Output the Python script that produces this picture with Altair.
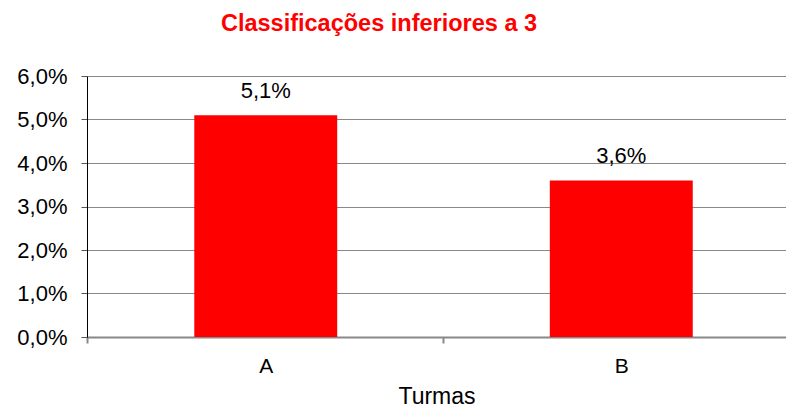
import altair as alt
import pandas as pd

categories = ["A", "B"]
values = [0.051, 0.036]
title_text = "Classificações inferiores a 3"
x_title = "Turmas"

df = pd.DataFrame({"Turma": categories, "Valor": values})

FONT = "Liberation Sans"

base = alt.Chart(df).encode(
    x=alt.X(
        "Turma:N",
        title=x_title,
        scale=alt.Scale(paddingInner=0.598, paddingOuter=0.282, align=0.535),
        axis=alt.Axis(
            labelAngle=0,
            labelFont=FONT,
            labelFontSize=21,
            labelColor="black",
            labelPadding=12,
            labelOffset=178.5,
            tickOffset=-178.5,
            tickColor="#888888",
            tickWidth=2,
            tickSize=6,
            domainColor="#888888",
            domainWidth=2,
            titleFont=FONT,
            titleFontSize=23,
            titleFontWeight="normal",
            titleColor="black",
            titlePadding=9,
            grid=False,
        ),
    ),
    y=alt.Y(
        "Valor:Q",
        title=None,
        scale=alt.Scale(domain=[0, 0.06], nice=False),
        axis=alt.Axis(
            values=[0, 0.01, 0.02, 0.03, 0.04, 0.05, 0.06],
            labelExpr="replace(format(datum.value, '.1%'), '.', ',')",
            labelFont=FONT,
            labelFontSize=22,
            labelColor="black",
            labelPadding=14,
            tickColor="#555555",
            tickSize=6,
            domainColor="black",
            domainWidth=1,
            grid=True,
            gridColor="#888888",
            gridWidth=1,
        ),
    ),
)

bars = base.mark_bar(color="#FF0000")

labels = base.transform_calculate(
    lab="replace(format(datum.Valor, '.1%'), '.', ',')"
).mark_text(
    font=FONT, fontSize=22, color="black", baseline="alphabetic", dy=-17
).encode(text="lab:N")

chart = (
    alt.layer(bars, labels)
    .properties(
        width=699,
        height=261,
        autosize=alt.AutoSizeParams(type="none"),
        padding={"left": 79, "top": 68, "right": 0, "bottom": 70},
        title=alt.TitleParams(
            text=title_text,
            font=FONT,
            fontSize=23.5,
            fontWeight="bold",
            color="#FF0000",
            anchor="middle",
            dx=-57.5,
            offset=30,
        ),
    )
    .configure_view(stroke=None)
)

chart.save("out.html", embed_options={"renderer": "svg", "actions": False})
